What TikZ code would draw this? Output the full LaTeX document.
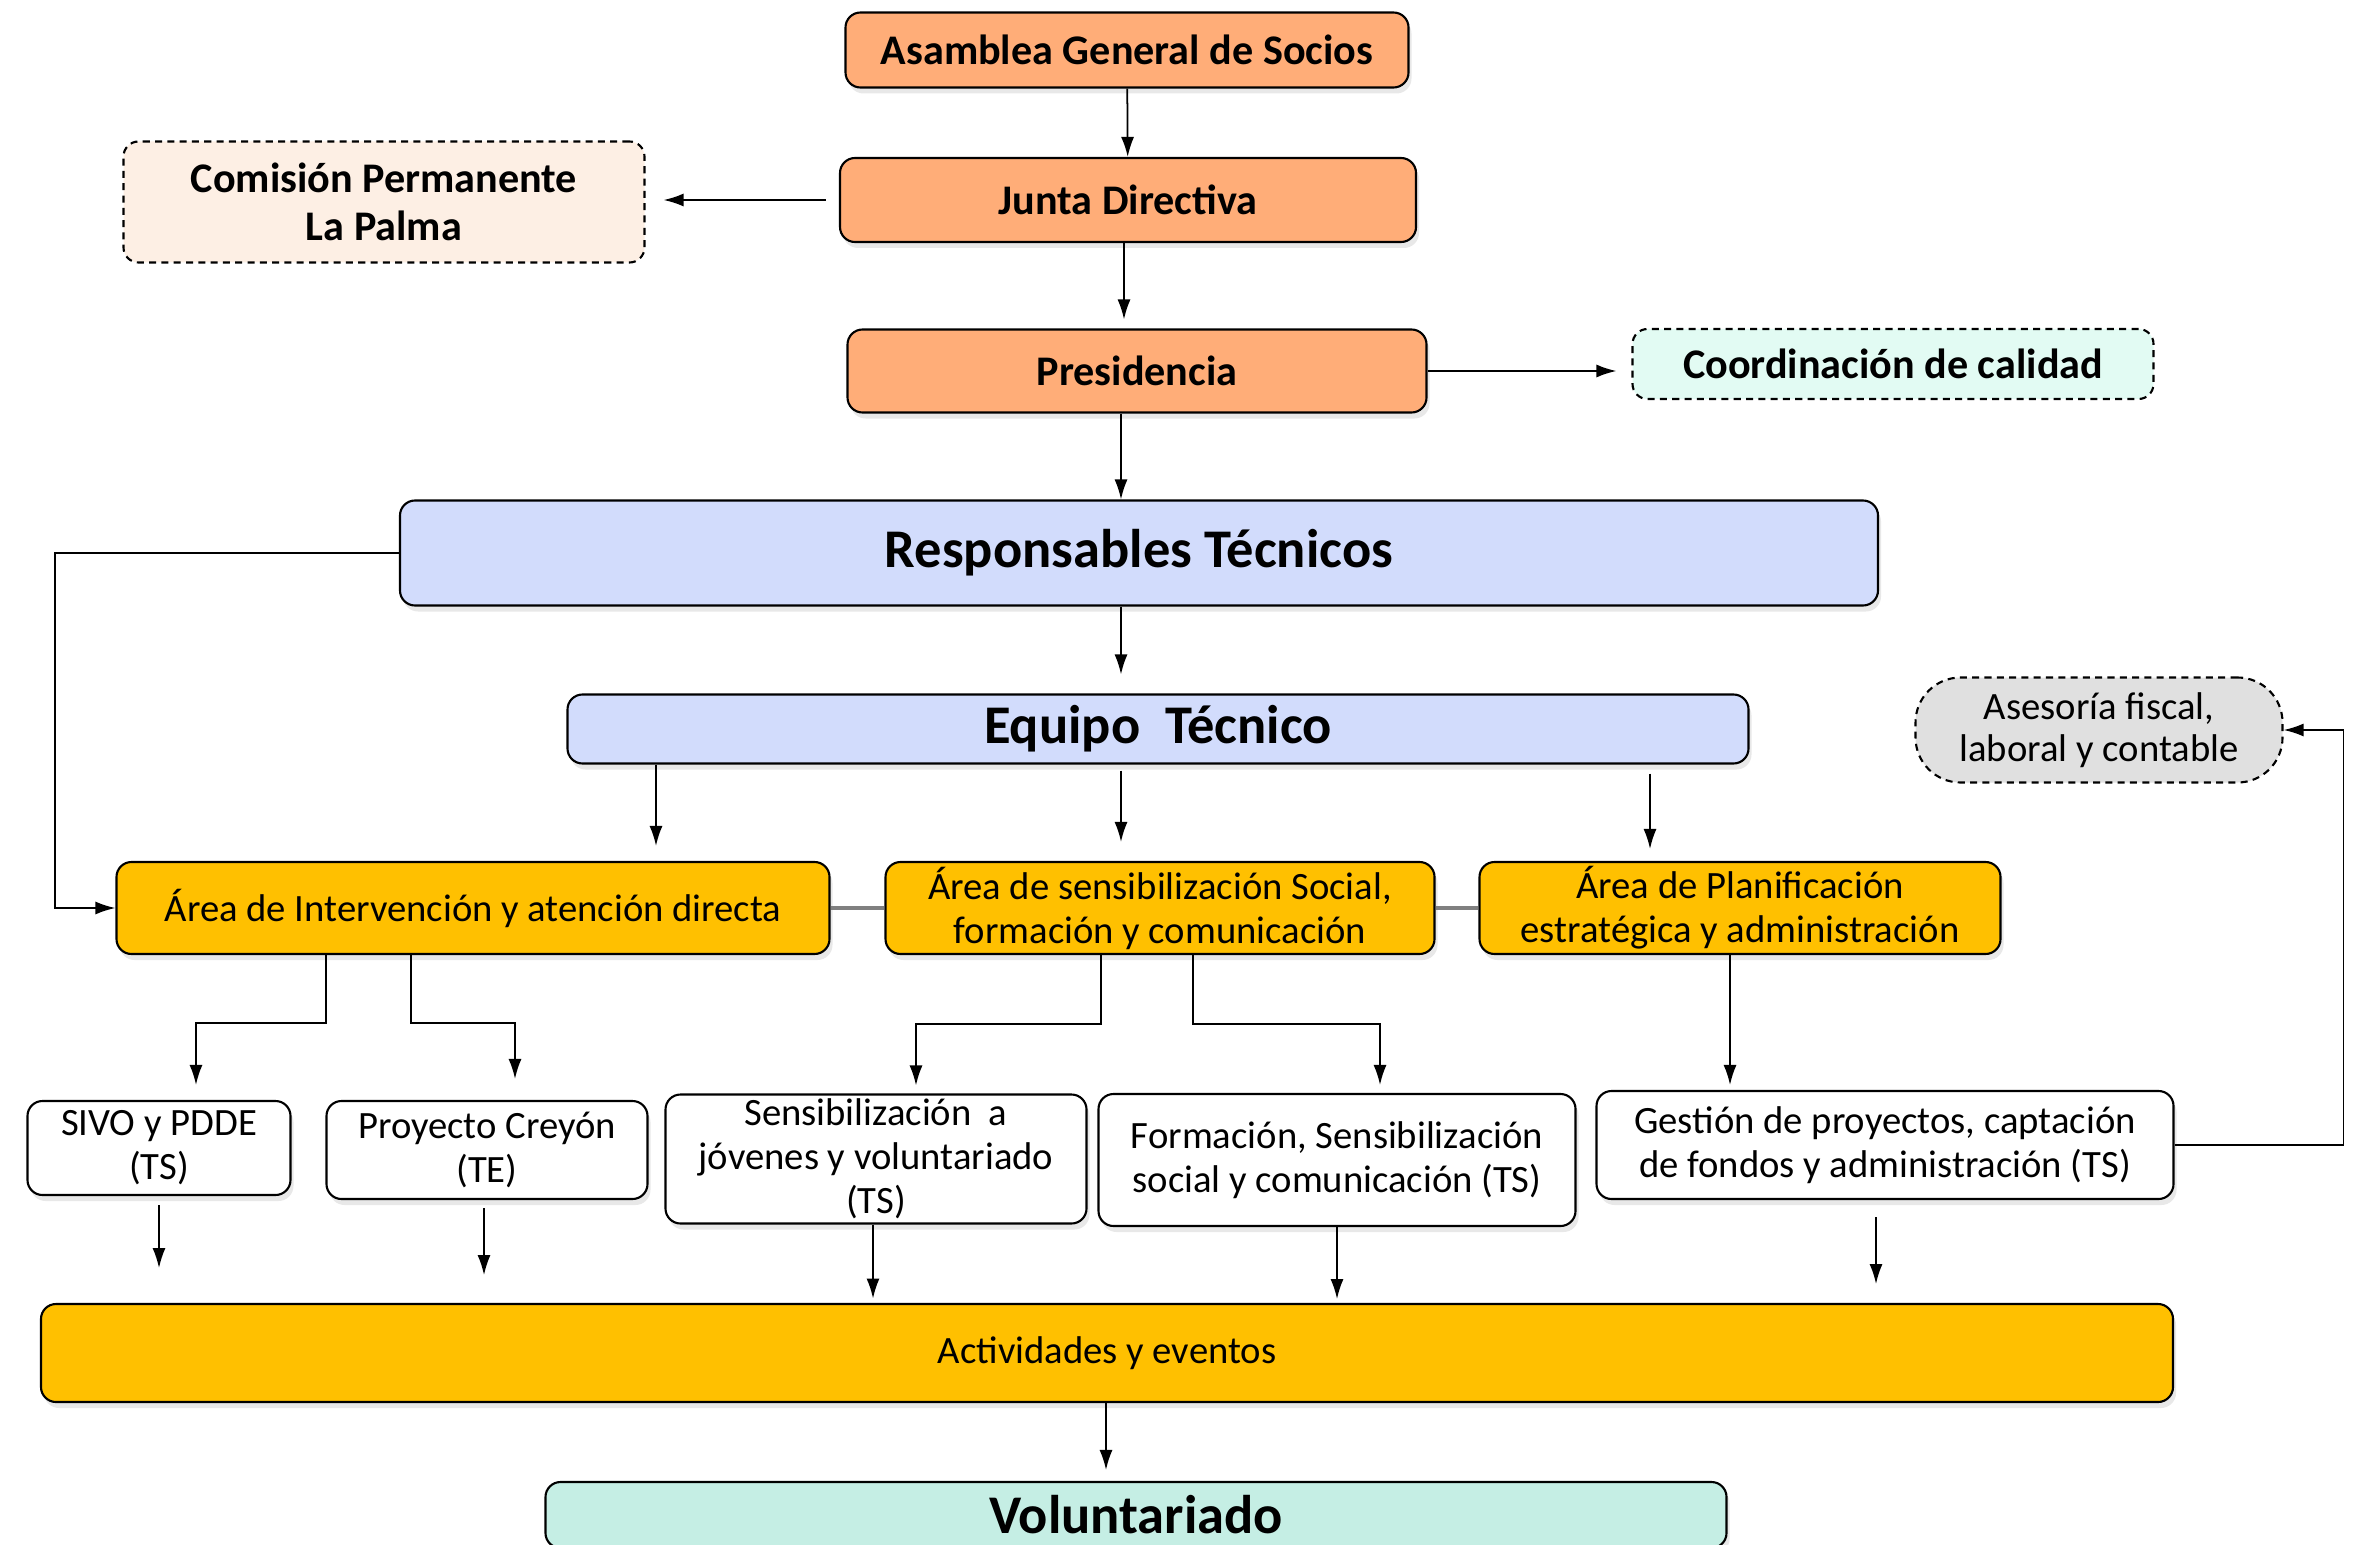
\documentclass[tikz,border=0pt]{standalone}
\usepackage{fontspec}
\setmainfont{Carlito}
\usetikzlibrary{arrows.meta,shadows}
\definecolor{salmon}{HTML}{FFAD78}
\definecolor{peach}{HTML}{FDEFE4}
\definecolor{mint}{HTML}{E2FBF3}
\definecolor{lavanda}{HTML}{D2DCFC}
\definecolor{ambar}{HTML}{FFC000}
\definecolor{gris}{HTML}{E0E0E0}
\definecolor{aguamarina}{HTML}{C5EEE4}
\tikzset{
  caja/.style={draw,line width=0.6pt,rounded corners=0.15cm,align=center,inner sep=0pt,
    drop shadow={opacity=0.18,shadow xshift=0.03cm,shadow yshift=-0.06cm}},
  gobierno/.style={caja,fill=salmon,font=\fontsize{12}{14}\selectfont\bfseries},
  externa/.style={draw,line width=0.6pt,dash pattern=on 2pt off 1.5pt,rounded corners=0.15cm,align=center,inner sep=0pt},
  tecnico/.style={caja,fill=lavanda,font=\fontsize{15.5}{18}\selectfont\bfseries},
  area/.style={caja,fill=ambar,font=\fontsize{11}{12.5}\selectfont},
  unidad/.style={caja,fill=white,font=\fontsize{11}{12.5}\selectfont},
  arr/.style={line width=0.5pt,-{Latex[length=0.2cm,width=0.13cm]}},
  enlace/.style={line width=1.2pt,draw=gray}
}

\begin{document}
\begin{tikzpicture}
  \useasboundingbox (0,0) rectangle (23.59,-15.45);
  % gobierno
  \node[gobierno,minimum width=5.63cm,minimum height=0.75cm] (asam) at (11.27,-0.50) {Asamblea General de Socios};
  \node[gobierno,minimum width=5.76cm,minimum height=0.84cm] (junta) at (11.28,-2.00) {Junta Directiva};
  \node[gobierno,minimum width=5.79cm,minimum height=0.83cm] (pres) at (11.37,-3.71) {Presidencia};
  \node[externa,fill=peach,font=\fontsize{12}{13.7}\selectfont\bfseries,minimum width=5.21cm,minimum height=1.21cm] (com) at (3.84,-2.02) {Comisión Permanente\\La Palma};
  \node[externa,fill=mint,font=\fontsize{12}{14}\selectfont\bfseries,minimum width=5.21cm,minimum height=0.70cm] (coord) at (18.93,-3.64) {Coordinación de calidad};
  \draw[arr] (asam) -- (junta);
  \draw[arr,shorten >=0.09cm] ([xshift=-0.04cm]junta.south) -- ([xshift=-0.04cm]junta.south |- pres.north);
  \draw[arr,shorten <=0.13cm,shorten >=0.18cm] (junta.west) -- (junta.west -| com.east);
  \draw[arr,shorten >=0.15cm] (pres.east) -- (pres.east -| coord.west);

  % equipo
  \node[tecnico,minimum width=14.78cm,minimum height=1.05cm] (resp) at (11.39,-5.53) {Responsables Técnicos};
  \node[tecnico,minimum width=11.81cm,minimum height=0.69cm] (equipo) at (11.58,-7.29) {Equipo~~Técnico};
  \draw[arr] ([xshift=-0.16cm]pres.south) -- ([xshift=-0.16cm]pres.south |- resp.north);
  \draw[arr,shorten >=0.19cm] ([xshift=-0.18cm]resp.south) -- ([xshift=-0.18cm]resp.south |- equipo.north);

  % areas
  \node[area,minimum width=7.13cm,minimum height=0.92cm] (area1) at (4.73,-9.08) {Área de Intervención y atención directa};
  \node[area,minimum width=5.49cm,minimum height=0.92cm] (area2) at (11.60,-9.08) {Área de sensibilización Social,\\formación y comunicación};
  \node[area,minimum width=5.21cm,minimum height=0.92cm] (area3) at (17.40,-9.08) {Área de Planificación\\estratégica y administración};
  \node[externa,fill=gris,rounded corners=0.45cm,font=\fontsize{11}{12}\selectfont,minimum width=3.67cm,minimum height=1.05cm] (ases) at (20.99,-7.30) {Asesoría fiscal,\\laboral y contable};
  \draw[enlace] (area1.east) -- (area2.west);
  \draw[enlace] (area2.east) -- (area3.west);
  \draw[arr] ([xshift=1.83cm]area1.north |- equipo.south) -- ([xshift=1.83cm,yshift=0.15cm]area1.north);
  \draw[arr] ([xshift=-0.39cm,yshift=-0.06cm]area2.north |- equipo.south) -- ([xshift=-0.39cm,yshift=0.19cm]area2.north);
  \draw[arr] ([xshift=-0.90cm,yshift=-0.09cm]area3.north |- equipo.south) -- ([xshift=-0.90cm,yshift=0.12cm]area3.north);
  \draw[arr] (resp.west) -- ++(-3.44,0) |- (area1.west);

  % unidades
  \node[unidad,minimum width=2.63cm,minimum height=0.94cm] (sivo) at (1.59,-11.48) {SIVO y PDDE\\(TS)};
  \node[unidad,minimum width=3.21cm,minimum height=0.98cm] (creyon) at (4.87,-11.50) {Proyecto Creyón\\(TE)};
  \node[unidad,minimum width=4.21cm,minimum height=1.29cm] (sens) at (8.76,-11.59) {Sensibilización~~a\\jóvenes y voluntariado\\(TS)};
  \node[unidad,minimum width=4.77cm,minimum height=1.32cm] (form) at (13.37,-11.60) {Formación, Sensibilización\\social y comunicación (TS)};
  \node[unidad,minimum width=5.77cm,minimum height=1.08cm] (gest) at (18.85,-11.45) {Gestión de proyectos, captación\\de fondos y administración (TS)};
  \draw[arr] ([xshift=-1.47cm]area1.south) -- ++(0,-0.68) -| ([xshift=0.37cm,yshift=0.15cm]sivo.north);
  \draw[arr] ([xshift=-0.62cm]area1.south) -- ++(0,-0.68) -| ([xshift=0.28cm,yshift=0.21cm]creyon.north);
  \draw[arr] ([xshift=-0.59cm]area2.south) -- ++(0,-0.69) -| ([xshift=0.40cm,yshift=0.08cm]sens.north);
  \draw[arr] ([xshift=0.33cm]area2.south) -- ++(0,-0.69) -| ([xshift=0.43cm,yshift=0.08cm]form.north);
  \draw[arr] ([xshift=-0.10cm]area3.south) -- ([xshift=-1.55cm,yshift=0.05cm]gest.north);
  \draw[arr] (gest.east) -- ++(1.69,0) |- (ases.east);

  % actividades
  \node[area,minimum width=21.32cm,minimum height=0.98cm] (act) at (11.07,-13.53) {Actividades y eventos};
  \node[caja,fill=aguamarina,font=\fontsize{15.5}{18}\selectfont\bfseries,minimum width=11.81cm,minimum height=0.66cm] (vol) at (11.36,-15.15) {Voluntariado};
  \draw[arr] ([yshift=-0.09cm]sivo.south) -- ++(0,-0.63);
  \draw[arr] ([xshift=-0.03cm,yshift=-0.08cm]creyon.south) -- ++(0,-0.67);
  \draw[arr] ([xshift=-0.03cm]sens.south) -- ++(0,-0.74);
  \draw[arr] (form.south) -- ++(0,-0.72);
  \draw[arr] ([xshift=-0.09cm,yshift=-0.17cm]gest.south) -- ++(0,-0.67);
  \draw[arr,shorten >=0.11cm] ([xshift=-0.01cm]act.south) -- ([xshift=-0.01cm]act.south |- vol.north);
\end{tikzpicture}
\end{document}
